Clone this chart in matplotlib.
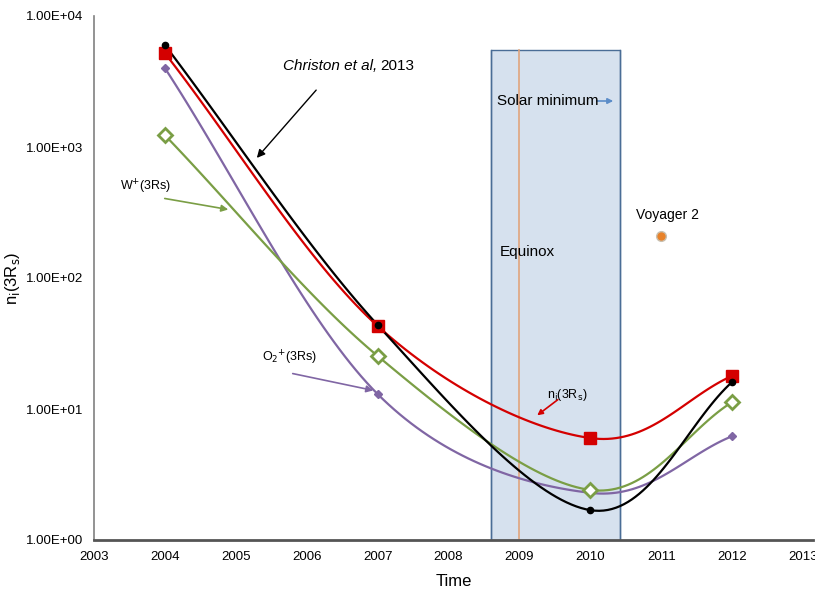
#!/usr/bin/env python3
"""
Ion density at 3 Rs versus time, with solar minimum / equinox markers.
"""

import numpy as np
import matplotlib.pyplot as plt

plt.rcParams['font.family'] = ['Liberation Sans', 'DejaVu Sans']

# data
years = [2004, 2007, 2010, 2012]
n_total = [6000, 43.8, 1.69, 16.1]      # black, Christon et al
n_i = [5200, 43.0, 6.0, 17.9]           # red
w_plus = [1230, 25.4, 2.41, 11.3]       # green
o2_plus = [4000, 13.0, 2.29, 6.2]       # purple
voyager_year = [2011]
voyager_val = [209]

solar_min = (2008.6, 2010.42)
solar_min_top = 5500
equinox_year = 2009.0

x_ticks = list(range(2003, 2014))
y_ticks = [1, 10, 100, 1000, 10000]
y_ticklabels = ['1.00E+00', '1.00E+01', '1.00E+02', '1.00E+03', '1.00E+04']

H = 593


def smooth(x, y, n=40):
    """Catmull-Rom style smoothing in (x, log y) like a spreadsheet smoothed line."""
    x = np.asarray(x, float)
    ly = np.log10(np.asarray(y, float))
    px = np.concatenate([[2 * x[0] - x[1]], x, [2 * x[-1] - x[-2]]])
    py = np.concatenate([[2 * ly[0] - ly[1]], ly, [2 * ly[-1] - ly[-2]]])
    xs, ys = [], []
    for i in range(1, len(px) - 2):
        p0 = np.array([px[i - 1], py[i - 1]])
        p1 = np.array([px[i], py[i]])
        p2 = np.array([px[i + 1], py[i + 1]])
        p3 = np.array([px[i + 2], py[i + 2]])
        c1 = p1 + (p2 - p0) / 6
        c2 = p2 - (p3 - p1) / 6
        t = np.linspace(0, 1, n)[:, None]
        b = ((1 - t) ** 3) * p1 + 3 * ((1 - t) ** 2) * t * c1 + 3 * (1 - t) * t ** 2 * c2 + t ** 3 * p2
        xs.extend(b[:, 0])
        ys.extend(b[:, 1])
    return np.array(xs), 10 ** np.array(ys)


def fp(x, y):
    return (x, H - y)


fig = plt.figure(figsize=(8.15, 5.93), dpi=100)
ax = fig.add_axes([94 / 815, 53 / 593, 719 / 815, 524 / 593])
ax.set_yscale('log')
ax.set_xlim(2003, 2013.14)
ax.set_ylim(1, 10000)

# solar minimum box and equinox line
ax.fill_between(solar_min, 1, solar_min_top, facecolor='#d6e1ee', edgecolor='#4a6d96',
                linewidth=1.0, zorder=1)
ax.plot([solar_min[0], solar_min[0]], [1, solar_min_top], color='#4a6d96', lw=1.0, zorder=1)
ax.plot([solar_min[1], solar_min[1]], [1, solar_min_top], color='#4a6d96', lw=1.0, zorder=1)
ax.axvline(equinox_year, ymax=np.log10(solar_min_top) / 4, color='#e0a47c', lw=1.2, zorder=2)

series = [
    (o2_plus, '#8066a4', dict(marker='D', ms=4, mfc='#8066a4', mec='#8066a4')),
    (w_plus, '#7a9e45', dict(marker='D', ms=7, mfc='white', mec='#7a9e45', mew=2)),
    (n_i, '#d40000', dict(marker='s', ms=8, mfc='#d40000', mec='#d40000')),
    (n_total, '#000000', dict(marker='o', ms=4.5, mfc='#000000', mec='#000000')),
]
for vals, col, mk in series:
    sx, sy = smooth(years, vals)
    ax.plot(sx, sy, color=col, lw=1.6, zorder=3)
    ax.plot(years, vals, linestyle='none', zorder=4, **mk)

ax.plot(voyager_year, voyager_val, 'o', ms=7, mfc='#e8822a', mec='#c9c0b0', mew=1, zorder=4)

# axes styling
for s in ['top', 'right']:
    ax.spines[s].set_visible(False)
ax.spines['left'].set_color('#808080')
ax.spines['left'].set_linewidth(1.2)
ax.spines['bottom'].set_color('#555555')
ax.spines['bottom'].set_linewidth(2)
ax.set_xticks(x_ticks)
ax.set_xticklabels([str(t) for t in x_ticks], fontsize=9.5)
ax.set_yticks(y_ticks)
ax.set_yticklabels(y_ticklabels, fontsize=9.5)
ax.minorticks_off()
ax.tick_params(length=0, pad=8)
ax.set_xlabel('Time', fontsize=12, labelpad=8)
fig.text(12 / 815, 1 - 278 / 593, r'n$_\mathrm{i}$(3R$_\mathrm{s}$)', rotation=90,
         ha='center', va='center', fontsize=12)

# annotations (figure pixel coords)
akw = dict(xycoords='figure pixels', textcoords='figure pixels')
fig.text(283 / 815, 1 - 66 / 593, 'Christon et al,', style='italic', fontsize=11, va='center')
fig.text(380 / 815, 1 - 66 / 593, '2013', fontsize=11, va='center')
ax.annotate('', xy=fp(255, 160), xytext=fp(318, 88),
            arrowprops=dict(arrowstyle='-|>', color='black', lw=1, mutation_scale=12), **akw)

fig.text(120 / 815, 1 - 187 / 593, r'W$^{+}$(3Rs)', fontsize=9, va='center')
ax.annotate('', xy=fp(231, 210), xytext=fp(162, 198),
            arrowprops=dict(arrowstyle='-|>', color='#7a9e45', lw=1.2, mutation_scale=10), **akw)

fig.text(262 / 815, 1 - 358 / 593, r'O$_2$$^{+}$(3Rs)', fontsize=9, va='center')
ax.annotate('', xy=fp(376, 391), xytext=fp(290, 373),
            arrowprops=dict(arrowstyle='-|>', color='#8066a4', lw=1.2, mutation_scale=10), **akw)

fig.text(547 / 815, 1 - 395 / 593, r'n$_\mathrm{i}$(3R$_\mathrm{s}$)', fontsize=9, va='center')
ax.annotate('', xy=fp(535, 417), xytext=fp(560, 398),
            arrowprops=dict(arrowstyle='-|>', color='#d40000', lw=1.2, mutation_scale=8), **akw)

fig.text(497 / 815, 1 - 101 / 593, 'Solar minimum', fontsize=11, va='center', zorder=5)
ax.annotate('', xy=fp(616, 101), xytext=fp(594, 101),
            arrowprops=dict(arrowstyle='-|>', color='#5b8cc8', lw=1.2, mutation_scale=8), **akw)

fig.text(500 / 815, 1 - 252 / 593, 'Equinox', fontsize=11, va='center')
fig.text(636 / 815, 1 - 215 / 593, 'Voyager 2', fontsize=10, va='center')

fig.savefig('out.png', dpi=100)
